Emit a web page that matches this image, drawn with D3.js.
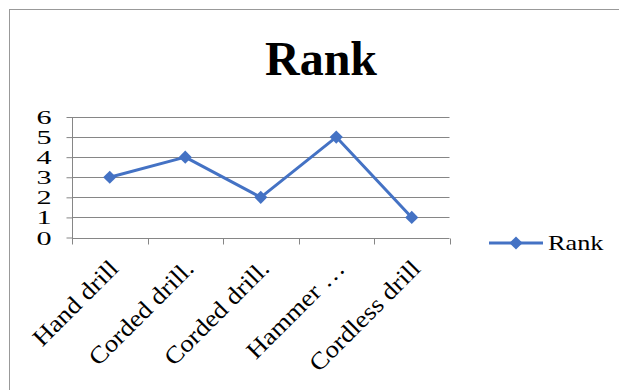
<!DOCTYPE html>
<html>
<head>
<meta charset="utf-8">
<script src="https://cdn.jsdelivr.net/npm/d3@7"></script>
<style>
  body { margin: 0; background: #fff; }
  svg text { font-family: "Liberation Serif", "Times New Roman", serif; }
</style>
</head>
<body>
<div class="container"></div>
<script>
// chart data
const categories = ["Hand drill", "Corded drill.", "Corded drill.", "Hammer \u2026", "Cordless drill"];
const rankValues = [3, 4, 2, 5, 1];
const yTicks = [0, 1, 2, 3, 4, 5, 6];
const seriesName = "Rank";

const WIDTH = 619, HEIGHT = 390;
const color = "#4472C4";
const gridColor = "#868686";

const svg = d3.select(".container").append("svg")
  .attr("width", WIDTH).attr("height", HEIGHT);

// outer frame
svg.append("rect")
  .attr("x", 9.5).attr("y", 9.5)
  .attr("width", 620).attr("height", 400)
  .attr("fill", "none").attr("stroke", "#999");

// title
svg.append("text")
  .attr("x", 321).attr("y", 75)
  .attr("text-anchor", "middle")
  .attr("font-size", 48).attr("font-weight", "bold")
  .text(seriesName);

const x = d3.scaleBand().domain(d3.range(categories.length)).range([72, 449.5]);
const y = d3.scaleLinear().domain([0, 6]).range([237.5, 117]);

// gridlines
svg.append("g").selectAll("line")
  .data(yTicks.filter(d => d > 0))
  .enter().append("line")
  .attr("x1", 72).attr("x2", 449.5)
  .attr("y1", d => Math.round(y(d)) + 0.5).attr("y2", d => Math.round(y(d)) + 0.5)
  .attr("stroke", gridColor).attr("stroke-width", 1);

// y axis
const yAxis = svg.append("g").attr("transform", "translate(72.5,0)")
  .call(d3.axisLeft(y).tickValues(yTicks).tickSize(6).tickFormat(d3.format("d")));
yAxis.attr("font-family", null).attr("font-size", null);
yAxis.select(".domain").attr("stroke", gridColor).attr("d", "M0," + y(6) + "V" + (y(0) + 0.5));
yAxis.selectAll(".tick line").attr("stroke", gridColor);
// digits are drawn a bit wide, as in the original
yAxis.selectAll(".tick text")
  .attr("x", null).attr("dy", null)
  .attr("transform", "translate(-21,6.5) scale(1.55,1)")
  .attr("font-size", 19.5).attr("fill", "#000");

// x axis
const xAxis = svg.append("g").attr("transform", "translate(0," + (Math.round(y(0)) + 0.5) + ")");
xAxis.append("line").attr("x1", 72).attr("x2", 449.5).attr("stroke", gridColor);
xAxis.selectAll("line.tk")
  .data(d3.range(categories.length + 1))
  .enter().append("line").attr("class", "tk")
  .attr("x1", i => Math.round(i < categories.length ? x(i) : x.range()[1]) + 0.5)
  .attr("x2", i => Math.round(i < categories.length ? x(i) : x.range()[1]) + 0.5)
  .attr("y1", 0).attr("y2", 6)
  .attr("stroke", gridColor);

svg.append("g").selectAll("text")
  .data(categories)
  .enter().append("text")
  .attr("transform", (d, i) => "translate(" + (x(i) + x.bandwidth() / 2 + 10) + ",270) rotate(-45) scale(1.12,1)")
  .attr("text-anchor", "end")
  .attr("font-size", 24)
  .text(d => d);

// line
const line = d3.line()
  .x((d, i) => x(i) + x.bandwidth() / 2)
  .y(d => y(d));

svg.append("path")
  .datum(rankValues)
  .attr("d", line)
  .attr("fill", "none").attr("stroke", color)
  .attr("stroke-width", 3).attr("stroke-linejoin", "round");

const diamond = d3.symbol().type(d3.symbolDiamond2).size(110);
svg.append("g").selectAll("path")
  .data(rankValues)
  .enter().append("path")
  .attr("d", diamond)
  .attr("transform", (d, i) => "translate(" + (x(i) + x.bandwidth() / 2) + "," + y(d) + ")")
  .attr("fill", color);

// legend
const lg = svg.append("g").attr("transform", "translate(489,243)");
lg.append("line").attr("x1", 0).attr("x2", 54).attr("stroke", color).attr("stroke-width", 3);
lg.append("path").attr("d", diamond).attr("transform", "translate(27,0)").attr("fill", color);
lg.append("text").attr("transform", "translate(59,7) scale(1.25,1)").attr("font-size", 21).text(seriesName);
</script>
</body>
</html>
